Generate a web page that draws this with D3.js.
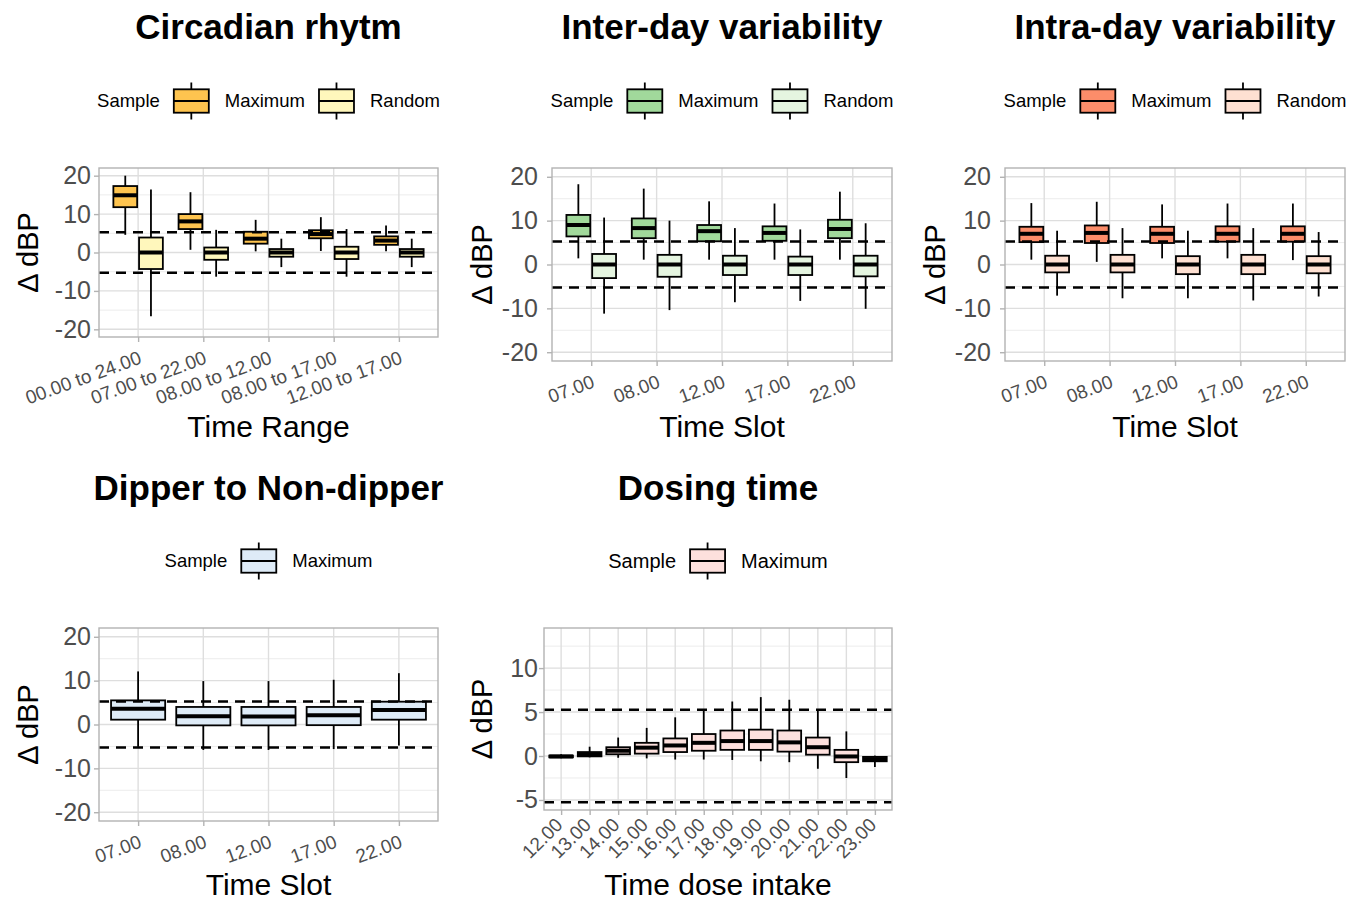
<!DOCTYPE html>
<html>
<head>
<meta charset="utf-8">
<script src="https://cdn.jsdelivr.net/npm/d3@7"></script>
<style>
  body { margin: 0; background: #fff; }
  svg text { font-family: "Liberation Sans", Arial, sans-serif; }
</style>
</head>
<body>
<div id="chart"></div>
<script>

// categories / tick labels
var circadianRanges = ["00.00 to 24.00", "07.00 to 22.00", "08.00 to 12.00", "08.00 to 17.00", "12.00 to 17.00"];
var timeSlots = ["07.00", "08.00", "12.00", "17.00", "22.00"];
var doseTimes = ["12.00", "13.00", "14.00", "15.00", "16.00", "17.00", "18.00", "19.00", "20.00", "21.00", "22.00", "23.00"];
var deltaTicks = [-20, -10, 0, 10, 20];
var deltaMinor = [-15, -5, 5, 15];
var doseTicks = [-5, 0, 5, 10];
var doseMinor = [-2.5, 2.5, 7.5, 12.5];
var thresholds = [-5.25, 5.25];

// box stats: [lower whisker, q1, median, q3, upper whisker]
var circadianMax = [[4.6, 11.8, 14.9, 17.3, 20.0], [0.7, 6.1, 8.1, 10.0, 15.7], [0.3, 2.3, 3.6, 5.4, 8.5], [0.4, 3.7, 4.8, 5.8, 9.2], [0.3, 2.0, 3.1, 4.2, 7.0]];
var circadianRandom = [[-16.6, -4.3, 0, 3.9, 16.4], [-6.3, -1.9, 0, 1.3, 5.9], [-3.8, -1.1, 0, 0.9, 3.6], [-6.3, -1.7, 0, 1.5, 6.1], [-3.8, -1.1, 0, 0.9, 3.6]];
var interMax = [[1.4, 6.4, 9.0, 11.3, 18.3], [1.1, 6.0, 8.3, 10.5, 17.3], [1.1, 5.3, 7.6, 9.0, 14.4], [1.1, 5.4, 7.2, 8.7, 13.9], [1.1, 6.0, 8.1, 10.2, 16.6]];
var interRandom = [[-11.2, -3.1, 0, 2.4, 10.7], [-10.4, -2.8, 0, 2.2, 10.0], [-8.6, -2.4, 0, 2.0, 8.3], [-8.3, -2.4, 0, 1.8, 8.0], [-10.1, -2.7, 0, 2.0, 9.4]];
var intraMax = [[1.1, 5.1, 7.0, 8.6, 14.0], [0.6, 4.9, 7.2, 8.9, 14.3], [1.4, 4.9, 7.0, 8.6, 13.7], [1.4, 5.2, 7.0, 8.7, 13.9], [1.0, 5.2, 7.0, 8.7, 13.9]];
var intraRandom = [[-7.1, -1.8, 0, 2.0, 7.7], [-7.7, -1.8, 0, 2.2, 8.3], [-7.7, -2.2, 0, 1.9, 7.7], [-8.2, -2.2, 0, 2.2, 8.3], [-7.3, -2.0, 0, 1.9, 7.4]];
var dipperMax = [[-5.1, 1.1, 3.6, 5.5, 12.1], [-5.8, -0.2, 1.9, 4.0, 9.9], [-5.8, -0.2, 1.8, 4.0, 9.9], [-5.6, -0.15, 2.1, 4.0, 10.2], [-4.8, 1.1, 3.3, 5.2, 11.7]];
var dosingMax = [[-0.25, -0.15, -0.05, 0.05, 0.2], [-0.15, -0.04, 0.2, 0.45, 1.06], [-0.2, 0.2, 0.6, 1.0, 2.1], [-0.27, 0.27, 0.95, 1.5, 3.2],
  [-0.4, 0.45, 1.2, 2.0, 4.4], [-0.4, 0.6, 1.5, 2.5, 5.25], [-0.45, 0.7, 1.7, 2.9, 6.2], [-0.6, 0.7, 1.7, 3.0, 6.7],
  [-0.7, 0.5, 1.55, 2.9, 6.4], [-1.45, 0.15, 1.0, 2.1, 5.25], [-2.5, -0.7, -0.05, 0.7, 2.8], [-1.25, -0.6, -0.35, -0.1, 0.05]];

var sampleNames = ["Maximum", "Random"];
var circadianColors = ["#FEC44F", "#FFF7BC"];
var interColors = ["#A1D99B", "#E5F5E0"];
var intraColors = ["#FC8D6A", "#FEE0D2"];
var dipperColors = ["#DEEBF7"];
var dosingColors = ["#FDE0DD"];

var svg = d3.select("#chart").append("svg")
    .attr("width", 1348)
    .attr("height", 900);

var panels = [
  {title: "Circadian rhytm", xTitle: "Time Range", cats: circadianRanges, series: [circadianMax, circadianRandom], colors: circadianColors,
   x0: 99, x1: 438, y0: 168, y1: 337, yDomain: [-22, 22], ticks: deltaTicks, minor: deltaMinor,
   titleY: 39, legY: 101, xTitleY: 437, yTitleX: 38, yLabRight: 91, angle: -20, labDx: 4, labDy: 26, legFont: 18.5},
  {title: "Inter-day variability", xTitle: "Time Slot", cats: timeSlots, series: [interMax, interRandom], colors: interColors,
   x0: 552, x1: 892, y0: 168, y1: 361, yDomain: [-22, 22], ticks: deltaTicks, minor: deltaMinor,
   titleY: 39, legY: 101, xTitleY: 437, yTitleX: 492, yLabRight: 538, angle: -20, labDx: 4, labDy: 26, legFont: 18.5},
  {title: "Intra-day variability", xTitle: "Time Slot", cats: timeSlots, series: [intraMax, intraRandom], colors: intraColors,
   x0: 1005, x1: 1345, y0: 168, y1: 361, yDomain: [-22, 22], ticks: deltaTicks, minor: deltaMinor,
   titleY: 39, legY: 101, xTitleY: 437, yTitleX: 945, yLabRight: 991, angle: -20, labDx: 4, labDy: 26, legFont: 18.5},
  {title: "Dipper to Non-dipper", xTitle: "Time Slot", cats: timeSlots, series: [dipperMax], colors: dipperColors,
   x0: 99, x1: 438, y0: 628, y1: 821, yDomain: [-22, 22], ticks: deltaTicks, minor: deltaMinor,
   titleY: 500, legY: 561, xTitleY: 895, yTitleX: 38, yLabRight: 91, angle: -20, labDx: 4, labDy: 26, legFont: 18.5},
  {title: "Dosing time", xTitle: "Time dose intake", cats: doseTimes, series: [dosingMax], colors: dosingColors,
   x0: 544, x1: 892, y0: 628, y1: 810, yDomain: [-6.14, 14.56], ticks: doseTicks, minor: doseMinor,
   titleY: 500, legY: 561, xTitleY: 895, yTitleX: 492, yLabRight: 538, angle: -45, labDx: 2, labDy: 16, legFont: 20}
];

panels.forEach(drawPanel);

function drawPanel(p) {
  var g = svg.append("g");
  var x = d3.scalePoint().domain(p.cats).range([p.x0, p.x1]).padding(0.6);
  var y = d3.scaleLinear().domain(p.yDomain).range([p.y1, p.y0]);
  var step = x.step();
  var n = p.series.length;
  var boxW = n == 1 ? 0.83 * step : 0.365 * step;
  var cx = p.x0 + (p.x1 - p.x0) / 2;

  // grid
  g.selectAll(".minor").data(p.minor).enter().append("line")
    .attr("x1", p.x0).attr("x2", p.x1)
    .attr("y1", function(d) { return y(d); }).attr("y2", function(d) { return y(d); })
    .attr("stroke", "#ececec").attr("stroke-width", 1);
  g.selectAll(".majory").data(p.ticks).enter().append("line")
    .attr("x1", p.x0).attr("x2", p.x1)
    .attr("y1", function(d) { return y(d); }).attr("y2", function(d) { return y(d); })
    .attr("stroke", "#dedede").attr("stroke-width", 1.4);
  g.selectAll(".majorx").data(p.cats).enter().append("line")
    .attr("x1", function(d) { return x(d); }).attr("x2", function(d) { return x(d); })
    .attr("y1", p.y0).attr("y2", p.y1)
    .attr("stroke", "#dedede").attr("stroke-width", 1.4);

  // axes
  var yAxis = g.append("g")
    .attr("transform", "translate(" + p.x0 + ",0)")
    .call(d3.axisLeft(y).tickValues(p.ticks).tickSize(5).tickFormat(function(d) { return String(d); }));
  yAxis.select(".domain").remove();
  yAxis.selectAll("line").attr("stroke", "#b3b3b3").attr("stroke-width", 1.4);
  yAxis.selectAll("text")
    .attr("x", -(p.x0 - p.yLabRight))
    .attr("fill", "#4d4d4d")
    .style("font-size", "25px");

  var xAxis = g.append("g")
    .attr("transform", "translate(0," + p.y1 + ")")
    .call(d3.axisBottom(x).tickSize(5));
  xAxis.select(".domain").remove();
  xAxis.selectAll("line").attr("stroke", "#b3b3b3").attr("stroke-width", 1.4);
  xAxis.selectAll("text")
    .attr("x", null).attr("y", null).attr("dy", null)
    .attr("text-anchor", "end")
    .attr("transform", "translate(" + p.labDx + "," + p.labDy + ") rotate(" + p.angle + ")")
    .attr("fill", "#4d4d4d")
    .style("font-size", "19px");

  // boxes
  p.series.forEach(function(stats, si) {
    var off = n == 1 ? 0 : (si - 0.5) * 2 * 0.197 * step;
    var bg = g.append("g");
    var items = bg.selectAll("g").data(stats).enter().append("g");
    items.append("line")
      .attr("x1", function(d, i) { return x(p.cats[i]) + off; })
      .attr("x2", function(d, i) { return x(p.cats[i]) + off; })
      .attr("y1", function(d) { return y(d[0]); })
      .attr("y2", function(d) { return y(d[4]); })
      .attr("stroke", "black").attr("stroke-width", 1.8);
    items.append("rect")
      .attr("x", function(d, i) { return x(p.cats[i]) + off - boxW / 2; })
      .attr("width", boxW)
      .attr("y", function(d) { return y(d[3]); })
      .attr("height", function(d) { return y(d[1]) - y(d[3]); })
      .attr("fill", p.colors[si])
      .attr("stroke", "black").attr("stroke-width", 1.8);
    items.append("line")
      .attr("x1", function(d, i) { return x(p.cats[i]) + off - boxW / 2; })
      .attr("x2", function(d, i) { return x(p.cats[i]) + off + boxW / 2; })
      .attr("y1", function(d) { return y(d[2]); })
      .attr("y2", function(d) { return y(d[2]); })
      .attr("stroke", "black").attr("stroke-width", 4);
  });

  // threshold lines
  g.selectAll(".thr").data(thresholds).enter().append("line")
    .attr("x1", p.x0).attr("x2", p.x1)
    .attr("y1", function(d) { return y(d); }).attr("y2", function(d) { return y(d); })
    .attr("stroke", "black").attr("stroke-width", 2.5)
    .attr("stroke-dasharray", "10,7");

  // panel border
  g.append("rect")
    .attr("x", p.x0).attr("y", p.y0)
    .attr("width", p.x1 - p.x0).attr("height", p.y1 - p.y0)
    .attr("fill", "none").attr("stroke", "#b3b3b3").attr("stroke-width", 1.4);

  // titles
  g.append("text")
    .attr("x", cx).attr("y", p.titleY)
    .attr("text-anchor", "middle")
    .style("font-size", "35px").style("font-weight", "bold")
    .text(p.title);
  g.append("text")
    .attr("x", cx).attr("y", p.xTitleY)
    .attr("text-anchor", "middle")
    .style("font-size", "30px")
    .text(p.xTitle);
  g.append("text")
    .attr("transform", "translate(" + p.yTitleX + "," + ((p.y0 + p.y1) / 2) + ") rotate(-90)")
    .attr("text-anchor", "middle")
    .style("font-size", "29px")
    .text("\u0394 dBP");

  // legend
  var leg = g.append("g");
  var fs = p.legFont;
  var pos = 0;
  var t = leg.append("text").attr("x", pos).attr("y", p.legY).attr("dy", "0.35em")
    .style("font-size", fs + "px").text("Sample");
  pos += t.node().getComputedTextLength() + 14;
  p.colors.forEach(function(c, i) {
    var kx = pos;
    leg.append("line")
      .attr("x1", kx + 17.5).attr("x2", kx + 17.5)
      .attr("y1", p.legY - 18.5).attr("y2", p.legY + 18.5)
      .attr("stroke", "black").attr("stroke-width", 1.8);
    leg.append("rect")
      .attr("x", kx).attr("y", p.legY - 11.7)
      .attr("width", 35).attr("height", 23.4)
      .attr("fill", c).attr("stroke", "black").attr("stroke-width", 1.8);
    leg.append("line")
      .attr("x1", kx).attr("x2", kx + 35)
      .attr("y1", p.legY).attr("y2", p.legY)
      .attr("stroke", "black").attr("stroke-width", 1.8);
    pos += 35 + 16;
    var lt = leg.append("text").attr("x", pos).attr("y", p.legY).attr("dy", "0.35em")
      .style("font-size", fs + "px").text(sampleNames[i]);
    pos += lt.node().getComputedTextLength() + 14;
  });
  var legW = pos - 14;
  leg.attr("transform", "translate(" + (cx - legW / 2) + ",0)");
}

</script>
</body>
</html>
